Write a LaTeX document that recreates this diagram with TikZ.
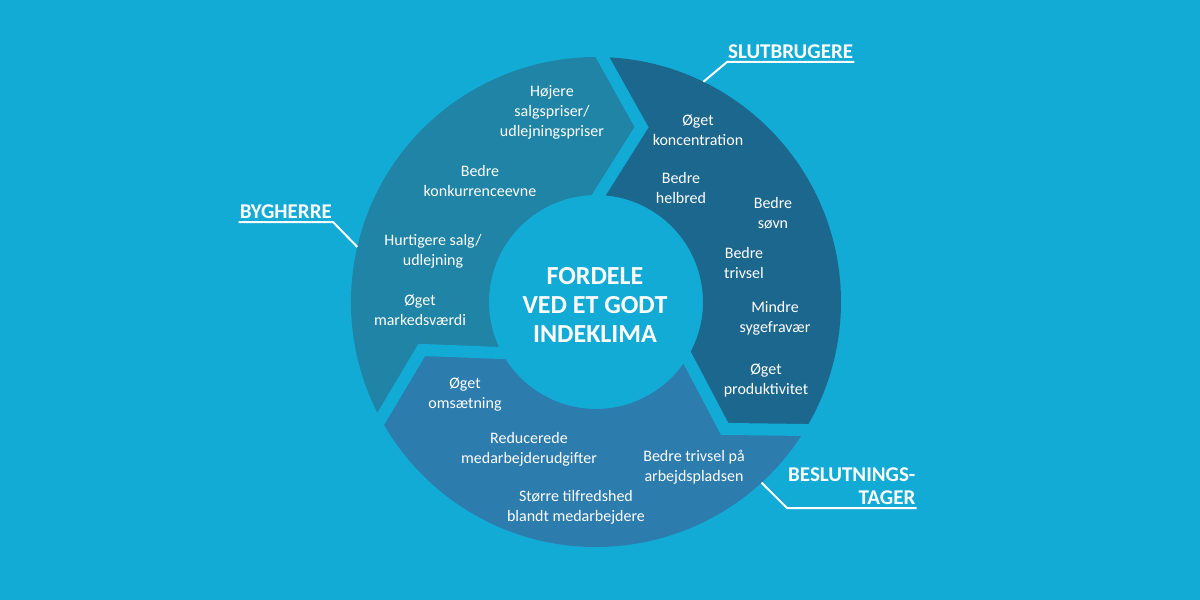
\documentclass[tikz,border=0pt]{standalone}
\usepackage{fontspec}
\setmainfont{Carlito}
\usetikzlibrary{calc}

\definecolor{skyblue}{HTML}{12ABD5}
\definecolor{ownerblue}{HTML}{1F84A5}
\definecolor{userblue}{HTML}{1B678E}
\definecolor{deciderblue}{HTML}{2C7CAE}

\newcommand{\rin}{107}
\newcommand{\rout}{245}

\begin{document}
\begin{tikzpicture}[
    x=1pt, y=1pt,
    item/.style={text=white, align=center, inner sep=0pt, font=\fontsize{16}{20}\selectfont},
    title/.style={text=white, align=center, inner sep=0pt, font=\fontsize{26}{29}\selectfont\bfseries},
    tag/.style={text=white, inner xsep=1pt, inner ysep=3pt, font=\fontsize{21}{23}\selectfont\bfseries},
    leader/.style={draw=white, line width=2pt},
    gap/.style={draw=skyblue, line width=12pt}
  ]
    \fill[skyblue] (-596,-298) rectangle (604,302);
    \useasboundingbox (-596,-298) rectangle (604,302);

    % borders of the three arrows
    \foreach \n/\a in {A/88.5, B/-31.5, C/-151.5} {
      \coordinate (in\n) at (\a:\rin);
      \coordinate (out\n) at (\a:\rout);
      \coordinate (tip\n) at ($(\a:176)+(\a-90:41)$);
    }

    \fill[ownerblue] (outC) arc[start angle=208.5, end angle=88.5, radius=\rout] -- (tipA)
      -- (inA) arc[start angle=88.5, end angle=208.5, radius=\rin] -- (tipC) -- cycle;
    \fill[userblue] (outA) arc[start angle=88.5, end angle=-31.5, radius=\rout] -- (tipB)
      -- (inB) arc[start angle=-31.5, end angle=88.5, radius=\rin] -- (tipA) -- cycle;
    \fill[deciderblue] (outB) arc[start angle=-31.5, end angle=-151.5, radius=\rout] -- (tipC)
      -- (inC) arc[start angle=-151.5, end angle=-31.5, radius=\rin] -- (tipB) -- cycle;

    \foreach \n in {A,B,C}
      \draw[gap] ($(tip\n)!1.2!(in\n)$) -- (tip\n) -- ($(tip\n)!1.2!(out\n)$);

    \node[title] (core) at (-1,-3) {FORDELE\\VED ET GODT\\INDEKLIMA};

    % bygherre
    \node[item] (price) at (-44,190) {Højere\\salgspriser/\\udlejningspriser};
    \node[item] (compete) at (-116,121) {Bedre\\konkurrenceevne};
    \node[item] (sale) at (-163,51) {Hurtigere salg/\\udlejning};
    \node[item] (value) at (-176,-8) {Øget\\markedsværdi};

    % slutbrugere
    \node[item] (focus) at (102,172) {Øget\\koncentration};
    \node[item] (health) at (85,114) {Bedre\\helbred};
    \node[item] (sleep) at (177,89) {Bedre\\søvn};
    \node[item] (wellbeing) at (148,39) {Bedre\\trivsel};
    \node[item] (absence) at (179,-16) {Mindre\\sygefravær};
    \node[item] (output) at (170,-78) {Øget\\produktivitet};

    % beslutningstager
    \node[item] (turnover) at (-131,-93) {Øget\\omsætning};
    \node[item] (costs) at (-67,-147) {Reducerede\\medarbejderudgifter};
    \node[item] (workplace) at (98,-165) {Bedre trivsel på\\arbejdspladsen};
    \node[item] (staff) at (-20,-205) {Større tilfredshed\\blandt medarbejdere};

    % labels
    \node[tag, anchor=south east] (owner) at (-263,80) {BYGHERRE};
    \node[tag, anchor=south west] (user) at (131,240) {SLUTBRUGERE};
    \node[tag, anchor=south west, align=right] (decider) at (191,-206) {BESLUTNINGS-\\TAGER};
    \coordinate (ownerpt) at (167:\rout);
    \coordinate (userpt) at (64:\rout);
    \coordinate (deciderpt) at (-47.5:\rout);

    \draw[leader] (owner.south west) -- (owner.south east) -- (ownerpt);
    \draw[leader] (user.south east) -- (user.south west) -- (userpt);
    \draw[leader] (decider.south east) -- (decider.south west) -- (deciderpt);
  \end{tikzpicture}
\end{document}
